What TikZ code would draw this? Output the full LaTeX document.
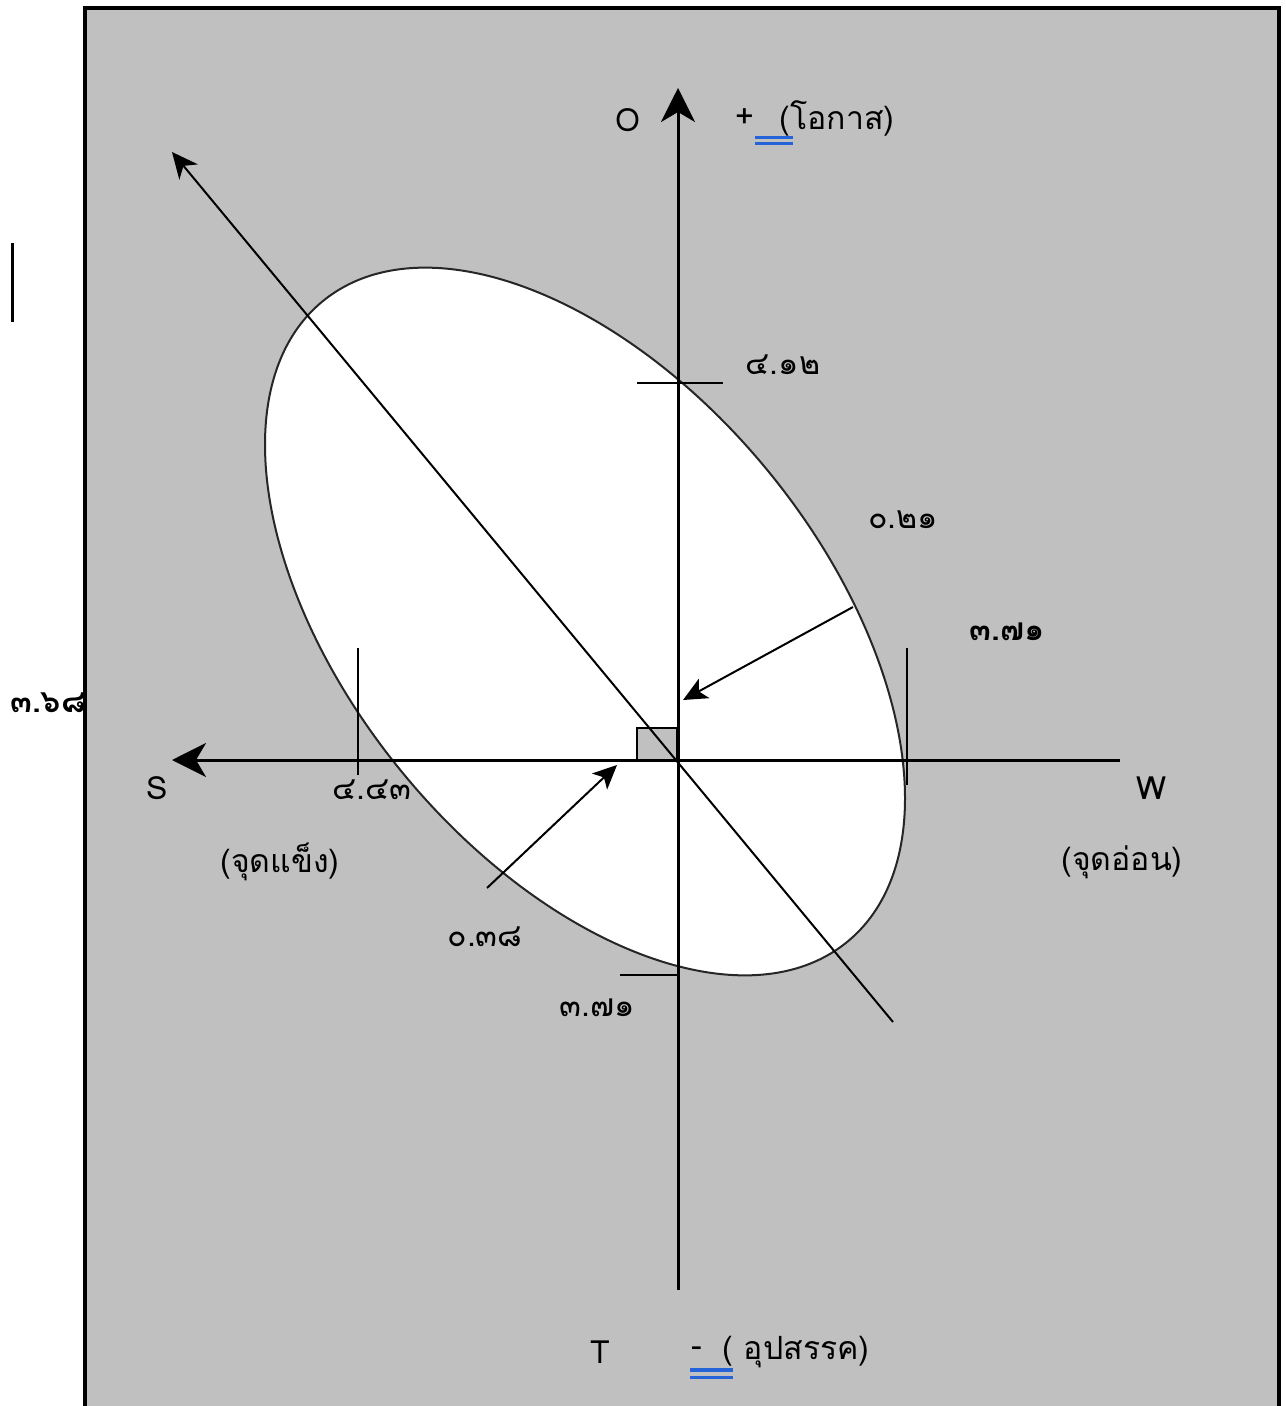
\documentclass[tikz,border=0pt]{standalone}
\usepackage{fontspec}
\newfontfamily\thaifont[Script=Thai]{Loma}
\usetikzlibrary{arrows.meta}
\definecolor{panel}{HTML}{C0C0C0}
\definecolor{ulblue}{HTML}{2563D9}
\begin{document}
\begin{tikzpicture}[x=0.5pt,y=-0.5pt,
  axisline/.style={line width=1.5pt,-{Stealth[length=17pt,width=17pt,inset=5pt]}},
  diagline/.style={line width=1pt,-{Stealth[length=13pt,width=12pt,inset=4pt]}},
  ptr/.style={line width=1pt,-{Stealth[length=12pt,width=11pt,inset=3pt]}},
  tickline/.style={line width=1.2pt},
  num/.style={font=\thaifont\fontsize{16}{18}\selectfont,inner sep=0pt},
  lbl/.style={font=\thaifont\fontsize{16}{19}\selectfont,inner sep=0pt},
  uline/.style={ulblue,line width=1.6pt}]
\useasboundingbox (0,0) rectangle (1285,1406);
% panel
\fill[panel] (85,8) rectangle (1279,1406);
% ellipse
\draw[fill=white,draw=black!85,line width=1pt,rotate around={-50.7:(585,621.5)}]
  (585,621.5) ellipse [x radius=414, y radius=237];
% small square
\draw[fill=panel,line width=1.2pt] (637,760) rectangle (677,728);
% coordinates
\coordinate (oT) at (678,88);
\coordinate (oB) at (678,1290);
\coordinate (sT) at (172,760);
\coordinate (wE) at (1120,760);
\coordinate (dS) at (172,152);
\coordinate (dE) at (893,1022);
\coordinate (p1s) at (853,607);
\coordinate (p1e) at (683,700);
\coordinate (p2s) at (487,888);
\coordinate (p2e) at (617,765);
% axes
\draw[axisline] (oB) -- (oT);
\draw[axisline] (wE) -- (sT);
\draw[diagline] (dE) -- (dS);
% ticks
\draw[tickline] (637,383) -- (723,383);
\draw[tickline] (907,648) -- (907,785);
\draw[tickline] (358,648) -- (358,775);
\draw[tickline] (620,975) -- (678,975);
% pointers
\draw[ptr] (p1s) -- (p1e);
\draw[ptr] (p2s) -- (p2e);
% left bar
\draw[line width=1.5pt] (12,243) -- (12,322);
% labels
\node[lbl] (lO) at (628,120) {O};
\node[lbl] (lplus) at (745,118) {+};
\node[lbl] (lopp) at (837,118) {(โอกาส)};
\draw[uline] (755,137.3) -- (793,137.3);
\draw[uline] (755,143.7) -- (793,143.7);
\node[lbl] (lT) at (600,1352) {T};
\node[lbl] (lminus) at (697,1352) {-};
\node[lbl] (lthr) at (796,1352) {( อุปสรรค)};
\draw[uline] (690,1370) -- (733,1370);
\draw[uline] (690,1377.5) -- (733,1377.5);
\node[lbl] (lS) at (157,788) {S};
\node[lbl] (lW) at (1152,788) {W};
\node[lbl] (lstr) at (280,862) {(จุดแข็ง)};
\node[lbl] (lweak) at (1122,862) {(จุดอ่อน)};
\node[num] (n1) at (783,365) {๔.๑๒};
\node[num] (n2) at (903,520) {๐.๒๑};
\node[num] (n3) at (1007,632) {\textbf{๓.๗๑}};
\node[num] (n4) at (48,703) {\textbf{๓.๖๘}};
\node[num] (n5) at (372,790) {๔.๔๓};
\node[num] (n6) at (485,937) {๐.๓๘};
\node[num] (n7) at (597,1008) {๓.๗๑};
% panel border (drawn last, over the left label)
\draw[line width=2pt] (85,1406) -- (85,8) -- (1279,8) -- (1279,1406);
\end{tikzpicture}
\end{document}
